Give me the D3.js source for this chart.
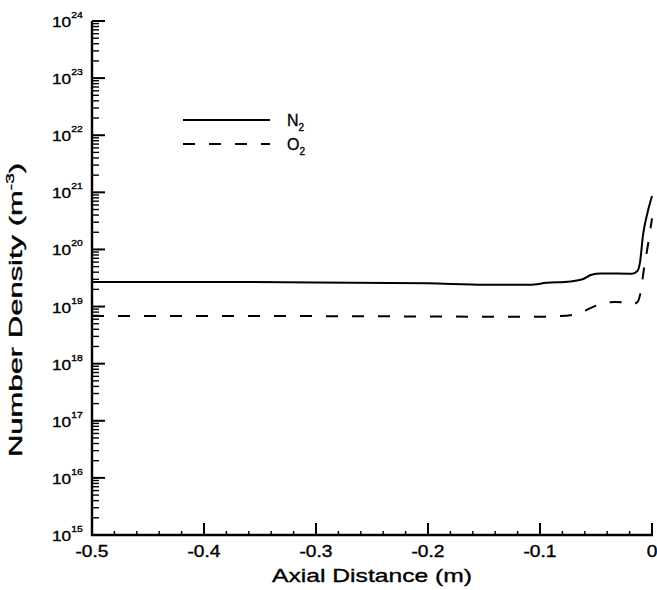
<!DOCTYPE html>
<html>
<head>
<meta charset="utf-8">
<script src="https://cdn.jsdelivr.net/npm/d3@7"></script>
<style>
  body { margin: 0; background: #fff; }
  svg { display: block; font-family: "Liberation Sans", Arial, Helvetica, sans-serif; }
  text { fill: #000; stroke: #000; stroke-width: 0.35; }
</style>
</head>
<body>
<div id="chart"></div>
<script>
// Axis ticks
const xTicks = [-0.5, -0.4, -0.3, -0.2, -0.1, 0];
const xTickLabels = ["-0.5", "-0.4", "-0.3", "-0.2", "-0.1", "0"];
const yExponents = [15, 16, 17, 18, 19, 20, 21, 22, 23, 24];

// N2 number density (m^-3) vs axial distance (m)
const n2X = [-0.5, -0.4, -0.3, -0.2, -0.149, -0.109, -0.094, -0.073, -0.062, -0.054, -0.046, -0.018, -0.013, -0.0107, -0.008, -0.0045, 0];
const n2Y = [2.7e19, 2.7e19, 2.65e19, 2.55e19, 2.4e19, 2.4e19, 2.6e19, 2.75e19, 3.0e19, 3.6e19, 3.8e19, 3.75e19, 4.2e19, 6.0e19, 1.8e20, 4.0e20, 8.6e20];

// O2 number density (m^-3) vs axial distance (m)
const o2X = [-0.5, -0.4, -0.3, -0.2, -0.109, -0.082, -0.064, -0.055, -0.046, -0.033, -0.024, -0.018, -0.013, -0.0098, -0.0071, -0.0036, 0];
const o2Y = [6.8e18, 6.8e18, 6.8e18, 6.7e18, 6.6e18, 6.8e18, 7.7e18, 9.4e18, 1.1e19, 1.2e19, 1.18e19, 1.09e19, 1.2e19, 1.95e19, 4.7e19, 1.2e20, 3.5e20];

const W = 657, H = 590;
const svg = d3.select("#chart").append("svg")
    .attr("width", W)
    .attr("height", H);

const x = d3.scaleLinear().domain([-0.5, 0]).range([92, 652]);
const y = d3.scaleLog().domain([1e15, 1e24]).range([535, 21]);

// minor ticks
const xMinor = d3.range(-0.48, 0, 0.02).filter(v => Math.abs(v * 10 - Math.round(v * 10)) > 1e-6);
const yMajor = yExponents.map(e => Math.pow(10, e));
const yMinor = [];
yExponents.slice(0, -1).forEach(e => {
    for (let k = 2; k <= 9; k++) yMinor.push(k * Math.pow(10, e));
});

const axes = svg.append("g").attr("stroke", "#000");

// y axis ticks (inward)
axes.selectAll("line.ymin").data(yMinor).join("line")
    .attr("class", "ymin")
    .attr("x1", 92).attr("x2", 99)
    .attr("y1", d => y(d)).attr("y2", d => y(d))
    .attr("stroke-width", 1.4);
axes.selectAll("line.ymaj").data(yMajor).join("line")
    .attr("class", "ymaj")
    .attr("x1", 92).attr("x2", 105)
    .attr("y1", d => y(d)).attr("y2", d => y(d))
    .attr("stroke-width", 2);

// x axis ticks (inward)
axes.selectAll("line.xmin").data(xMinor).join("line")
    .attr("class", "xmin")
    .attr("x1", d => x(d)).attr("x2", d => x(d))
    .attr("y1", 535).attr("y2", 531)
    .attr("stroke-width", 1.4);
axes.selectAll("line.xmaj").data(xTicks).join("line")
    .attr("class", "xmaj")
    .attr("x1", d => x(d)).attr("x2", d => x(d))
    .attr("y1", 535).attr("y2", 523)
    .attr("stroke-width", 2);

// axis lines
axes.append("line")
    .attr("x1", x(-0.5)).attr("x2", x(-0.5))
    .attr("y1", y(1e24)).attr("y2", y(1e15) + 1)
    .attr("stroke-width", 2.4);
axes.append("line")
    .attr("x1", x(-0.5) - 1).attr("x2", x(0) + 1)
    .attr("y1", y(1e15)).attr("y2", y(1e15))
    .attr("stroke-width", 2.4);

// x tick labels
svg.append("g").selectAll("text")
    .data(xTicks)
    .join("text")
    .attr("transform", d => `translate(${x(d)},557) scale(1.2,1)`)
    .attr("text-anchor", "middle")
    .attr("font-size", 16)
    .text((d, i) => xTickLabels[i]);

// y tick labels: 10^n
const yLab = svg.append("g").selectAll("text")
    .data(yExponents)
    .join("text")
    .attr("transform", d => `translate(52,${y(Math.pow(10, d)) + 6}) scale(1.15,1)`)
    .attr("font-size", 15);
yLab.append("tspan").text("10");
yLab.append("tspan").attr("font-size", 9).attr("dy", -9).text(d => d);

// axis titles
svg.append("text")
    .attr("x", 372).attr("y", 582)
    .attr("text-anchor", "middle")
    .attr("font-size", 19)
    .attr("textLength", 200)
    .attr("lengthAdjust", "spacingAndGlyphs")
    .text("Axial Distance (m)");

const yTitle = svg.append("text")
    .attr("transform", "translate(22,310) rotate(-90)")
    .attr("text-anchor", "middle")
    .attr("font-size", 18)
    .attr("textLength", 294)
    .attr("lengthAdjust", "spacingAndGlyphs");
yTitle.append("tspan").text("Number Density (m");
yTitle.append("tspan").attr("font-size", 11).attr("dy", -8).text("-3");
yTitle.append("tspan").attr("dy", 8).text(")");

// curves
const line = d3.line()
    .x(d => x(d[0]))
    .y(d => y(d[1]))
    .curve(d3.curveMonotoneX);

const series = [
    { name: "N", sub: "2", xs: n2X, ys: n2Y, dash: null },
    { name: "O", sub: "2", xs: o2X, ys: o2Y, dash: "12,14" }
];

series.forEach((s, i) => {
    svg.append("path")
        .datum(s.xs.map((v, j) => [v, s.ys[j]]))
        .attr("fill", "none")
        .attr("stroke", "#000")
        .attr("stroke-width", 2)
        .attr("stroke-dasharray", s.dash)
        .attr("d", line);

    // legend
    const ly = 120 + i * 24;
    svg.append("line")
        .attr("x1", 183).attr("x2", 270)
        .attr("y1", ly).attr("y2", ly)
        .attr("stroke", "#000")
        .attr("stroke-width", 2)
        .attr("stroke-dasharray", s.dash);
    const t = svg.append("text")
        .attr("x", 287).attr("y", ly + 6)
        .attr("font-size", 16);
    t.append("tspan").text(s.name);
    t.append("tspan").attr("font-size", 10).attr("dy", 5).text(s.sub);
});
</script>
</body>
</html>
